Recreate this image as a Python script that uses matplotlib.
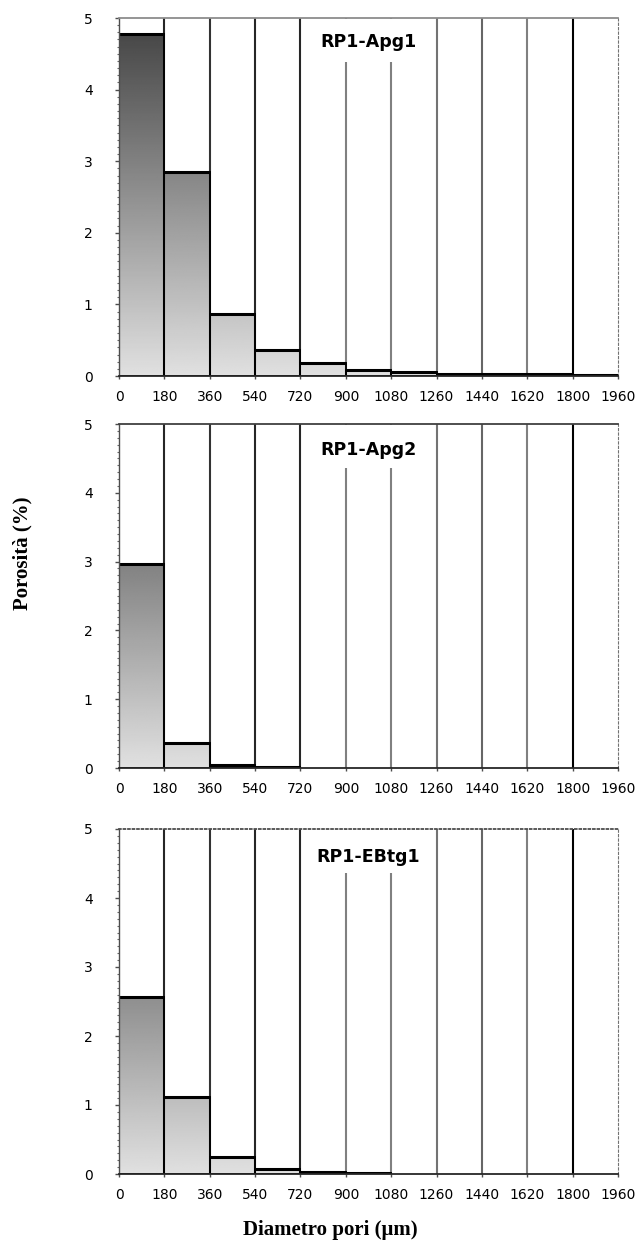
import numpy as np
import matplotlib
matplotlib.use('Agg')
import matplotlib.pyplot as plt
from matplotlib.ticker import MultipleLocator
from matplotlib.patches import Rectangle

# ---- data ----
edge_labels = ['0', '180', '360', '540', '720', '900', '1080', '1260',
               '1440', '1620', '1800', '1960']
titles = ['RP1-Apg1', 'RP1-Apg2', 'RP1-EBtg1']
apg1 = [4.78, 2.85, 0.86, 0.37, 0.18, 0.09, 0.05, 0.03, 0.03, 0.03, 0.02]
apg2 = [2.97, 0.36, 0.05, 0.01, 0.0, 0.0, 0.0, 0.0, 0.0, 0.0, 0.0]
ebtg1 = [2.56, 1.12, 0.25, 0.07, 0.03, 0.01, 0.0, 0.0, 0.0, 0.0, 0.0]
yticks = [0, 1, 2, 3, 4, 5]
series = [apg1, apg2, ebtg1]

W, H = 641, 1255
fig = plt.figure(figsize=(W / 100, H / 100), dpi=100)

# pixel boxes (left, top, right, bottom)
boxes = [(119, 18, 618, 376), (119, 424, 618, 768), (119, 829, 618, 1174)]
top_styles = [('solid', '0.55'), ('solid', '0.25'), ((0, (1, 1.5)), '0.3')]
title_off = [24, 26, 28]

line_cols = ['0.15', '0.2', '0.15', '0.15', '0.5', '0.5', '0.45', '0.4', '0.5', '0.0']

n = len(edge_labels) - 1
for k, (vals, title, box) in enumerate(zip(series, titles, boxes)):
    l, t, r, b = box
    ph = b - t
    ax = fig.add_axes([l / W, 1 - b / H, (r - l) / W, ph / H])
    ax.set_xlim(0, n)
    ax.set_ylim(0, 5)

    # gradient-filled bars
    for i, h in enumerate(vals):
        if h <= 0:
            continue
        yy = np.linspace(h, 0, 200).reshape(-1, 1)
        g = 0.88 - 0.125 * yy
        img = np.repeat(g, 2, axis=1)
        ax.imshow(img, cmap='gray', vmin=0, vmax=1, aspect='auto',
                  extent=(i, i + 1, 0, h), interpolation='bilinear', zorder=1)
    xs = [i for i, h in enumerate(vals) if h > 0]
    hv = [h for h in vals if h > 0]
    ax.bar(xs, hv, width=1.0, align='edge', facecolor='none',
           edgecolor='black', linewidth=1.3, zorder=3)
    for i, h in enumerate(vals):
        if h > 0:
            ax.hlines(h, i, i + 1, color='black', linewidth=2.2, zorder=4)

    # vertical bin-edge lines
    for j in range(1, n):
        ax.axvline(j, color=line_cols[j - 1], linewidth=1.5, zorder=2)

    # white box behind title
    ax.add_patch(Rectangle((0.373, 1 - 44 / ph), 0.254, 44 / ph - 0.004,
                           transform=ax.transAxes, facecolor='white',
                           edgecolor='none', zorder=5))

    # spines
    ax.spines['left'].set_color('0.3')
    ax.spines['left'].set_linewidth(1.0)
    ax.spines['bottom'].set_linestyle((0, (1, 1)))
    ax.spines['bottom'].set_color('0.15')
    ax.spines['bottom'].set_linewidth(1.3)
    ax.spines['right'].set_linestyle((0, (2, 2)))
    ax.spines['right'].set_color('0.45')
    ax.spines['top'].set_linestyle(top_styles[k][0])
    ax.spines['top'].set_color(top_styles[k][1])
    ax.spines['top'].set_linewidth(1.3)
    for s in ax.spines.values():
        s.set_zorder(7)

    ax.set_xticks(range(0, n + 1))
    ax.set_xticklabels(edge_labels, fontsize=10, family='DejaVu Sans')
    ax.set_yticks(yticks)
    ax.set_yticklabels([str(v) for v in yticks], fontsize=10, family='DejaVu Sans')
    ax.yaxis.set_minor_locator(MultipleLocator(0.1))
    ax.tick_params(axis='x', length=2, width=1, pad=8, color='0.3')
    ax.tick_params(axis='y', which='major', length=3, width=1, pad=16, color='0.3')
    ax.tick_params(axis='y', which='minor', length=1.5, width=0.8, color='0.4')

    ax.text(0.5, 1 - title_off[k] / ph, title, transform=ax.transAxes,
            ha='center', va='center', fontsize=12.5, fontweight='bold',
            family='DejaVu Sans', color='black', zorder=6)

fig.text(330 / W, 1 - 1230 / H, 'Diametro pori (\u03bcm)', ha='center', va='center',
         fontsize=15, fontweight='bold', family='Liberation Serif')
fig.text(22 / W, 1 - 553 / H, 'Porosità (%)', ha='center', va='center',
         rotation=90, fontsize=15, fontweight='bold', family='Liberation Serif')

fig.savefig('out.png', dpi=100)
